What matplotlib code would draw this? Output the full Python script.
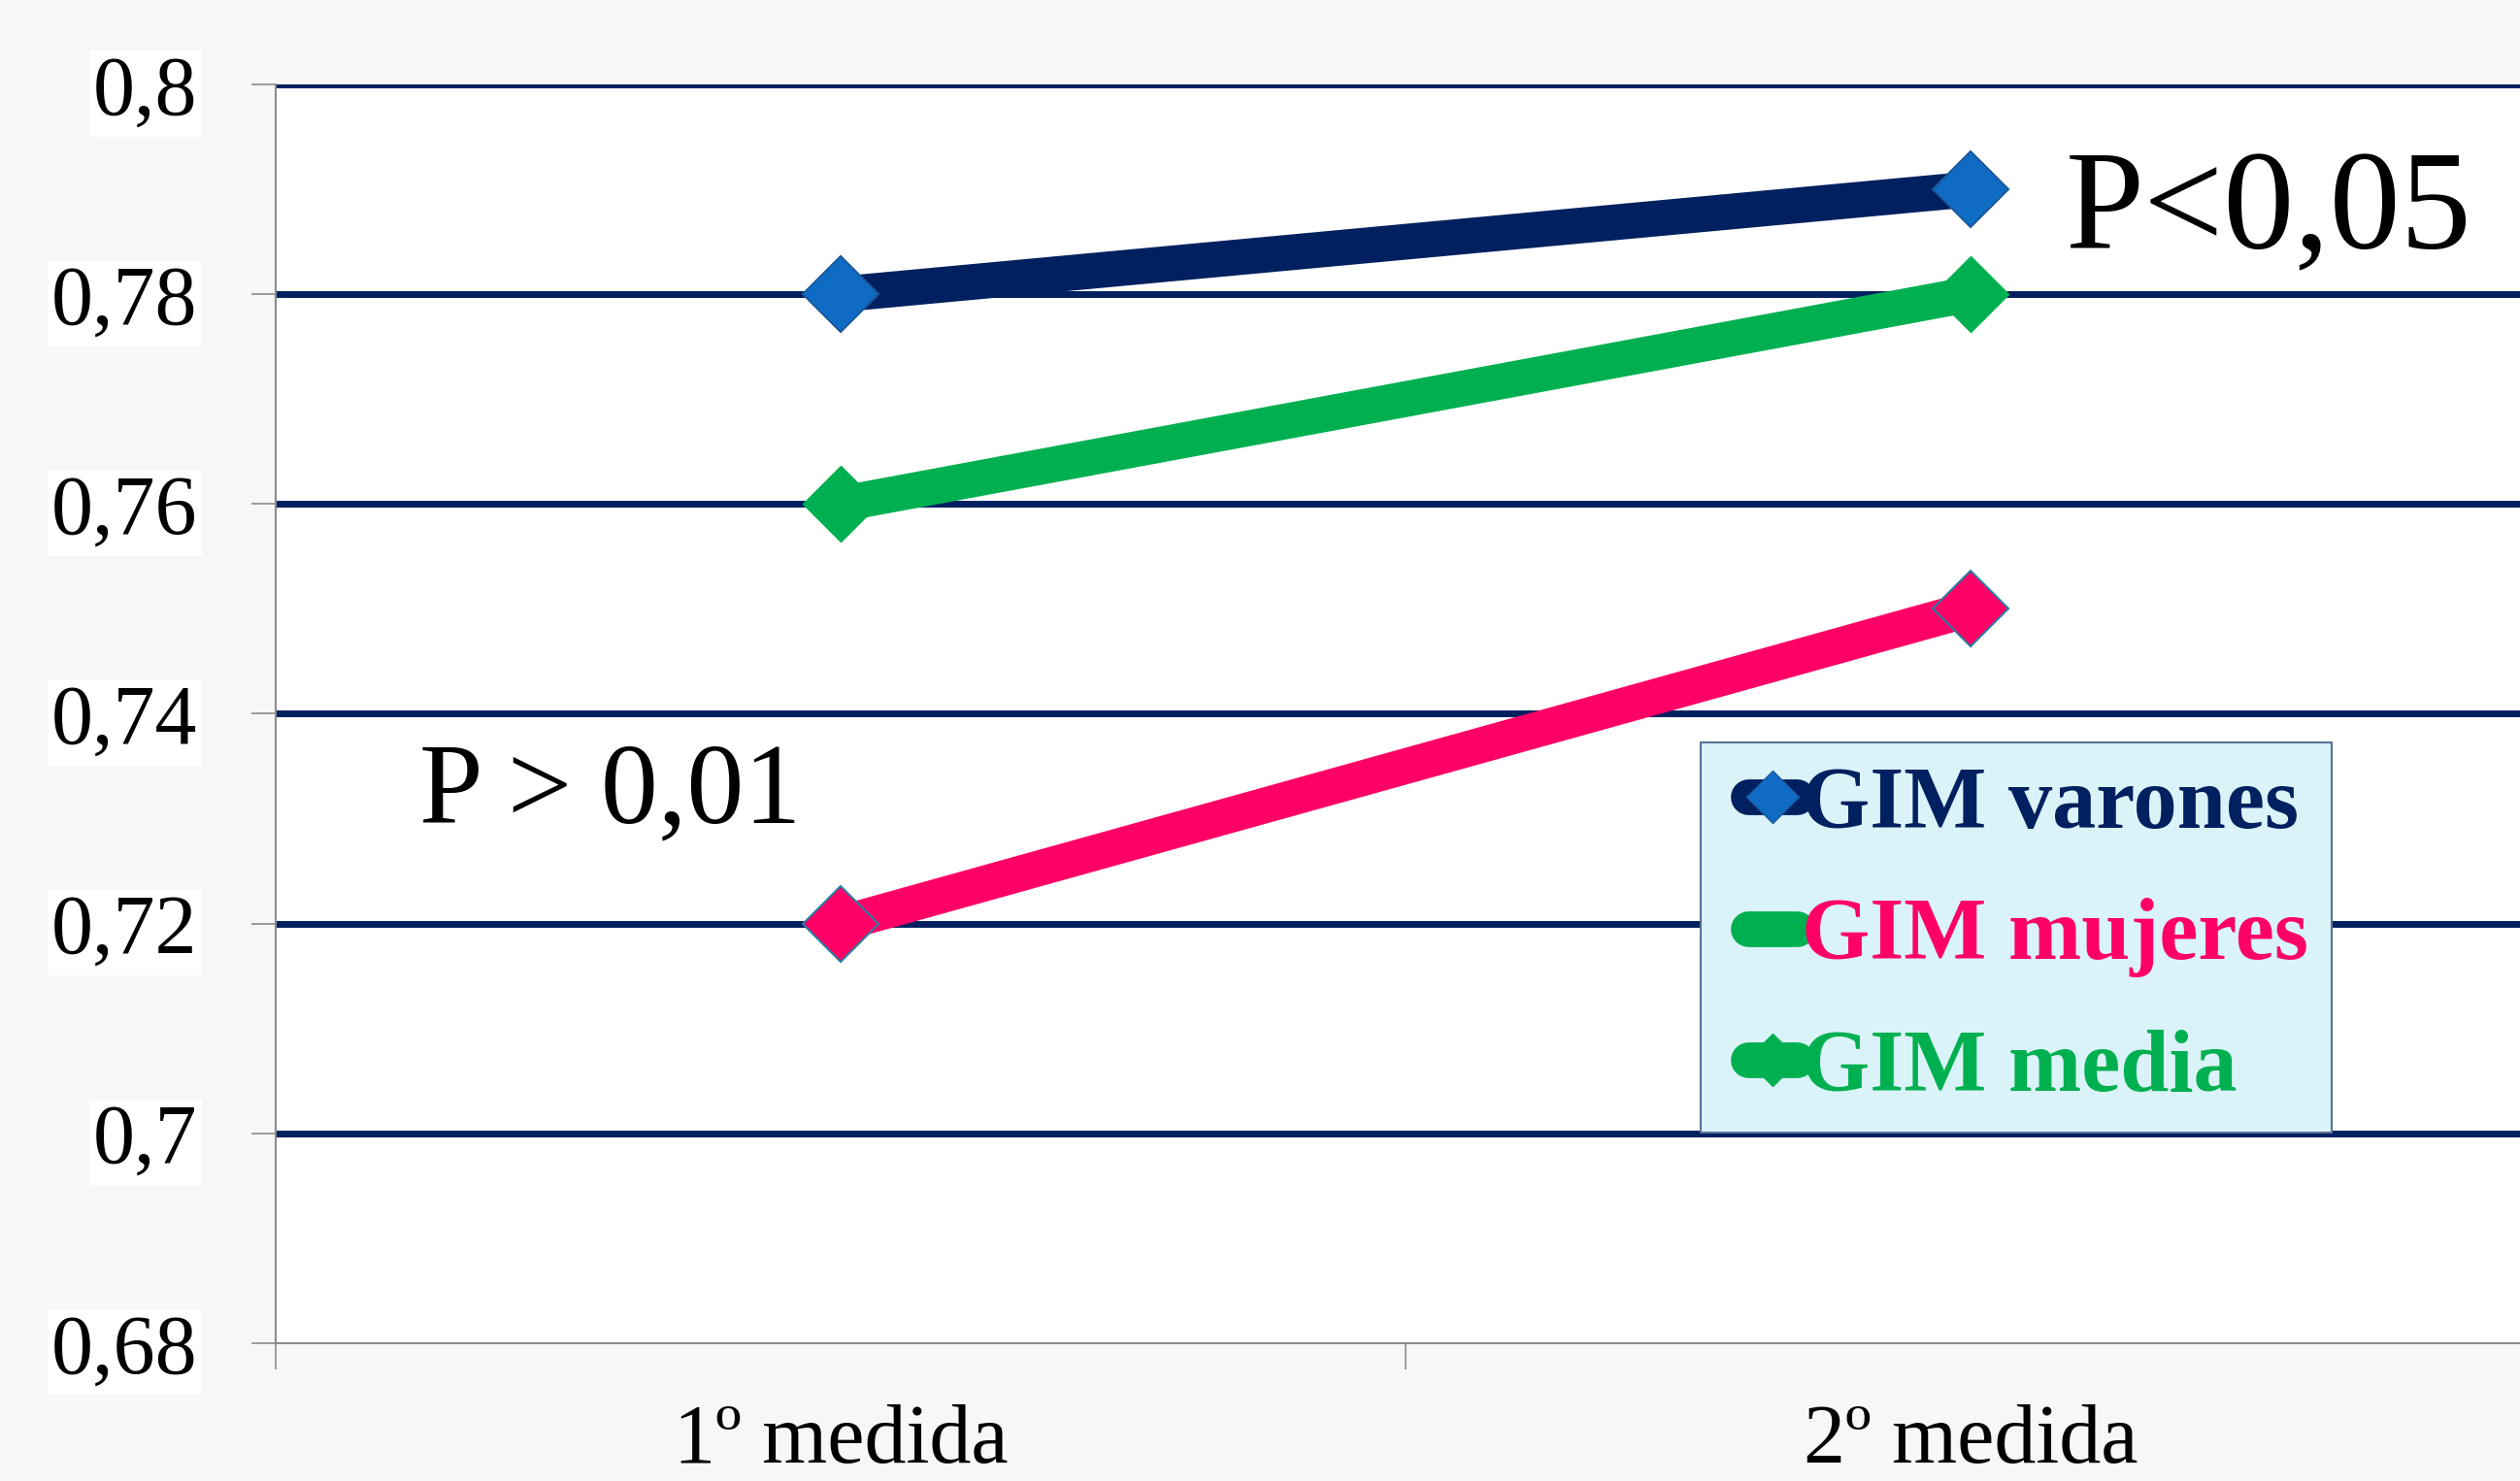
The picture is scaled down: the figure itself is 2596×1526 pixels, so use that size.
import matplotlib
matplotlib.use("Agg")
import matplotlib.pyplot as plt
from matplotlib.lines import Line2D
from matplotlib.transforms import Affine2D

# data
categories = ["1º medida", "2º medida"]
gim_varones = [0.78, 0.79]
gim_mujeres = [0.72, 0.75]
gim_media = [0.76, 0.78]
series_names = ["GIM varones", "GIM mujeres", "GIM media"]
y_ticks = [0.68, 0.70, 0.72, 0.74, 0.76, 0.78, 0.80]
y_labels = ["0,68", "0,7", "0,72", "0,74", "0,76", "0,78", "0,8"]

NAVY = "#002060"
BLUE = "#0F6BC3"
PINK = "#FF0066"
GREEN = "#00B050"
GRAY = "#8C8C8C"
LW = 26.5

plt.rcParams["font.family"] = ["Liberation Serif", "DejaVu Serif"]

fig = plt.figure(figsize=(25.96, 15.26), dpi=100, facecolor="#f7f7f7")
ax = fig.add_axes([0.1094, 0.0931, 0.8968, 0.8499])
ax.set_facecolor("white")
x = list(range(len(categories)))

ax.hlines(y_ticks[1:], -0.5, 1.5, color=NAVY, lw=5, zorder=1)

ax.plot(x, gim_varones, color=NAVY, lw=LW, marker="D", ms=40,
        mfc=BLUE, mec="#1A5A9E", mew=1.5, zorder=3)
ax.plot(x, gim_mujeres, color=PINK, lw=LW, marker="D", ms=40,
        mfc=PINK, mec="#2C7DA0", mew=1.5, zorder=3)
ax.plot(x, gim_media, color=GREEN, lw=LW, marker="D", ms=40,
        mfc=GREEN, mec=GREEN, mew=1, zorder=3)

ax.set_xlim(-0.5, 1.5)
ax.set_ylim(0.68, 0.80)

for side in ["top", "right"]:
    ax.spines[side].set_visible(False)
for side in ["left", "bottom"]:
    ax.spines[side].set_color(GRAY)
    ax.spines[side].set_linewidth(1.5)

ax.set_yticks(y_ticks, y_labels)
ax.tick_params(axis="y", direction="out", length=18, width=1.2, color=GRAY,
               pad=40, labelsize=62)
for lab in ax.get_yticklabels():
    lab.set_bbox(dict(facecolor="white", edgecolor="none", pad=3))

ax.set_xticks(x, categories)
ax.set_xticks([-0.5, 0.5, 1.5], minor=True)
ax.tick_params(axis="x", which="major", length=0, pad=45, labelsize=62)
ax.tick_params(axis="x", which="minor", direction="out", length=19.5,
               width=1.2, color=GRAY)

ax.text(1.084, 0.7843, "P<0,05", fontsize=105, va="baseline", ha="left")
ax.text(-0.373, 0.7296, "P > 0,01", fontsize=85, va="baseline", ha="left")

handles = [
    Line2D([], [], color=NAVY, lw=LW, solid_capstyle="round", marker="D",
           ms=27, mfc=BLUE, mec="#1A5A9E"),
    Line2D([], [], color=GREEN, lw=LW, solid_capstyle="round"),
    Line2D([], [], color=GREEN, lw=LW, solid_capstyle="round", marker="D",
           ms=27, mfc=GREEN, mec=GREEN),
]
leg = ax.legend(handles, series_names, loc="lower left",
                bbox_to_anchor=(0.6306, 0.1673), borderaxespad=0,
                prop=dict(weight="bold", size=65), handlelength=0.55,
                handletextpad=0.33, labelspacing=0.59, borderpad=0.27,
                fancybox=False, facecolor="#DAF3F8", edgecolor="#5B7096",
                framealpha=1, numpoints=1)
leg.get_frame().set_linewidth(1.5)
for t, c in zip(leg.get_texts(), [NAVY, PINK, GREEN]):
    t.set_color(c)
# nudge the thick handles right so the round caps sit inside the box
for h in leg.legend_handles:
    h.set_transform(Affine2D().translate(18, 0) + h.get_transform())

fig.savefig("out.png", dpi=100, facecolor=fig.get_facecolor())
